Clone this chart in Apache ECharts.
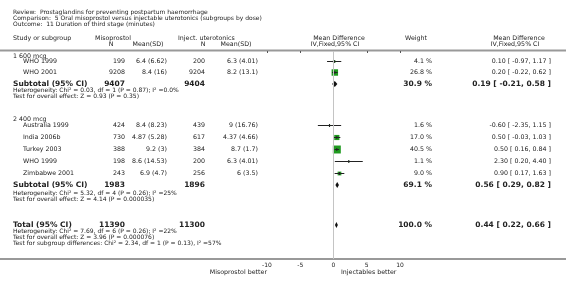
<!DOCTYPE html>
<html>
<head>
    <meta charset="utf-8" />
    <title>Forest plot - duration of third stage</title>
    <script src="https://cdn.jsdelivr.net/npm/echarts@6/dist/echarts.min.js"></script>
    <style>
        html, body { margin: 0; padding: 0; background: #ffffff; }
        #chart { width: 566px; height: 284px; }
    </style>
</head>
<body>
<div id="chart"></div>
<script type="text/javascript">
    // header text
    var titleLines = [
        'Review:  Prostaglandins for preventing postpartum haemorrhage',
        'Comparison:  5 Oral misoprostol versus injectable uterotonics (subgroups by dose)',
        'Outcome:  11 Duration of third stage (minutes)'
    ];

    // study level data
    var studyNames = ['WHO 1999', 'WHO 2001', 'Australia 1999', 'India 2006b', 'Turkey 2003', 'WHO 1999', 'Zimbabwe 2001'];
    var misoN = [199, 9208, 424, 730, 388, 198, 243];
    var misoMeanSd = ['6.4 (6.62)', '8.4 (16)', '8.4 (8.23)', '4.87 (5.28)', '9.2 (3)', '8.6 (14.53)', '6.9 (4.7)'];
    var injN = [200, 9204, 439, 617, 384, 200, 256];
    var injMeanSd = ['6.3 (4.01)', '8.2 (13.1)', '9 (16.76)', '4.37 (4.66)', '8.7 (1.7)', '6.3 (4.01)', '6 (3.5)'];
    var weights = [4.1, 26.8, 1.6, 17.0, 40.5, 1.1, 9.0];
    var meanDiff = [0.10, 0.20, -0.60, 0.50, 0.50, 2.30, 0.90];
    var ciLow = [-0.97, -0.22, -2.35, -0.03, 0.16, 0.20, 0.17];
    var ciHigh = [1.17, 0.62, 1.15, 1.03, 0.84, 4.40, 1.63];

    // subtotals and total
    var sumNames = ['Subtotal (95% CI)', 'Subtotal (95% CI)', 'Total (95% CI)'];
    var sumMisoN = [9407, 1983, 11390];
    var sumInjN = [9404, 1896, 11300];
    var sumWeight = [30.9, 69.1, 100.0];
    var sumMd = [0.19, 0.56, 0.44];
    var sumLow = [-0.21, 0.29, 0.22];
    var sumHigh = [0.58, 0.82, 0.66];

    var groupNames = ['1 600 mcg', '2 400 mcg'];
    var statLines = [
        'Heterogeneity: Chi² = 0.03, df = 1 (P = 0.87); I² =0.0%',
        'Test for overall effect: Z = 0.93 (P = 0.35)',
        'Heterogeneity: Chi² = 5.32, df = 4 (P = 0.26); I² =25%',
        'Test for overall effect: Z = 4.14 (P = 0.000035)',
        'Heterogeneity: Chi² = 7.69, df = 6 (P = 0.26); I² =22%',
        'Test for overall effect: Z = 3.96 (P = 0.000076)',
        'Test for subgroup differences: Chi² = 2.34, df = 1 (P = 0.13), I² =57%'
    ];
    var xTicks = [-10, -5, 0, 5, 10];

    // row slots (vertical layout, one unit = one table row)
    var studyRows = [0.83, 1.75, 6.17, 7.17, 8.17, 9.17, 10.17];
    var sumRows = [2.75, 11.17, 14.5];
    var groupRows = [0.42, 5.67];
    var statRows = [3.25, 3.75, 11.83, 12.33, 15.0, 15.5, 16.0];

    var FONT = 'DejaVu Sans';
    var TXT = '#222';
    var GREEN = '#1f9a1f';

    function fmt2(v) { return v.toFixed(2); }
    function ciText(m, l, h) { return fmt2(m) + ' [ ' + fmt2(l) + ', ' + fmt2(h) + ' ]'; }

    var studyData = [];
    for (var i = 0; i < studyNames.length; i++) {
        studyData.push([meanDiff[i], studyRows[i], ciLow[i], ciHigh[i], weights[i]]);
    }
    var sumData = [];
    for (var j = 0; j < sumNames.length; j++) {
        sumData.push([sumMd[j], sumRows[j], sumLow[j], sumHigh[j]]);
    }

    var myChart = echarts.init(document.getElementById('chart'));
    var option = {
        animation: false,
        grid: { left: 267, width: 133, top: 51, height: 208 },
        xAxis: {
            type: 'value',
            min: xTicks[0],
            max: xTicks[xTicks.length - 1],
            interval: 5,
            axisLine: { show: false },
            axisTick: { show: true, length: 2, lineStyle: { color: '#555' } },
            splitLine: { show: false },
            axisLabel: { fontFamily: FONT, fontSize: 6, color: TXT, margin: 3 }
        },
        yAxis: {
            type: 'value', inverse: true, min: 0, max: 17.33, show: false
        },
        series: [
            {
                // per-study square and confidence interval
                type: 'custom',
                data: studyData,
                renderItem: function (params, api) {
                    var y = api.value(1);
                    var c = api.coord([api.value(0), y]);
                    var lo = api.coord([api.value(2), y]);
                    var hi = api.coord([api.value(3), y]);
                    var s = 1.25 * Math.sqrt(api.value(4));
                    var py = Math.round(c[1]) + 0.5;
                    return {
                        type: 'group',
                        children: [
                            { type: 'rect', shape: { x: c[0] - s / 2, y: py - s / 2, width: s, height: s }, style: { fill: GREEN } },
                            { type: 'line', shape: { x1: lo[0], y1: py, x2: hi[0], y2: py }, style: { stroke: '#222', lineWidth: 1 } },
                            { type: 'line', shape: { x1: c[0], y1: py - 1.5, x2: c[0], y2: py + 1.5 }, style: { stroke: '#222', lineWidth: 1 } }
                        ]
                    };
                },
                markLine: {
                    silent: true, symbol: 'none', label: { show: false },
                    lineStyle: { color: '#c4c4c4', width: 1, type: 'solid' },
                    data: [{ xAxis: 0 }]
                }
            },
            {
                // pooled diamonds
                type: 'custom',
                data: sumData,
                renderItem: function (params, api) {
                    var y = api.value(1);
                    var c = api.coord([api.value(0), y]);
                    var lo = api.coord([api.value(2), y]);
                    var hi = api.coord([api.value(3), y]);
                    return {
                        type: 'polygon',
                        shape: { points: [[lo[0], c[1]], [c[0], c[1] - 3], [hi[0], c[1]], [c[0], c[1] + 3]] },
                        style: { fill: '#111' }
                    };
                }
            }
        ]
    };
    myChart.setOption(option);

    // text table, placed on the same row scale
    function rowY(r) { return myChart.convertToPixel({ yAxisIndex: 0 }, r); }
    function txt(x, y, s, align, bold, size) {
        return {
            type: 'text', x: x, y: y, silent: true,
            style: {
                text: s, fill: TXT, align: align || 'left', verticalAlign: 'middle',
                font: (bold ? 'bold ' : '') + (size || 6.3) + 'px "' + FONT + '"'
            }
        };
    }

    var g = [];
    for (var t = 0; t < titleLines.length; t++) g.push(txt(13, 12 + t * 6.2, titleLines[t], 'left', false, 6));
    g.push(txt(13, 38, 'Study or subgroup'));
    g.push(txt(95, 38, 'Misoprostol'));
    g.push(txt(178, 38, 'Inject. uterotonics'));
    g.push(txt(339, 38, 'Mean Difference', 'center'));
    g.push(txt(416, 38, 'Weight', 'center'));
    g.push(txt(519, 38, 'Mean Difference', 'center'));
    g.push(txt(111, 44.5, 'N', 'center'));
    g.push(txt(148, 44.5, 'Mean(SD)', 'center'));
    g.push(txt(203, 44.5, 'N', 'center'));
    g.push(txt(236, 44.5, 'Mean(SD)', 'center'));
    g.push(txt(335, 44.5, 'IV,Fixed,95% CI', 'center'));
    g.push(txt(515, 44.5, 'IV,Fixed,95% CI', 'center'));

    // separator lines
    var axisY = rowY(17.33);
    g.push({ type: 'rect', silent: true, shape: { x: 0, y: 49.5, width: 566, height: 2 }, style: { fill: '#999' } });
    g.push({ type: 'rect', silent: true, shape: { x: 0, y: axisY - 1, width: 566, height: 2 }, style: { fill: '#999' } });

    for (var k = 0; k < groupNames.length; k++) g.push(txt(13, rowY(groupRows[k]), groupNames[k]));
    for (var i2 = 0; i2 < studyNames.length; i2++) {
        var y = rowY(studyRows[i2]);
        g.push(txt(23, y, studyNames[i2]));
        g.push(txt(125, y, String(misoN[i2]), 'right'));
        g.push(txt(167, y, misoMeanSd[i2], 'right'));
        g.push(txt(205, y, String(injN[i2]), 'right'));
        g.push(txt(258, y, injMeanSd[i2], 'right'));
        g.push(txt(432, y, weights[i2].toFixed(1) + ' %', 'right'));
        g.push(txt(551, y, ciText(meanDiff[i2], ciLow[i2], ciHigh[i2]), 'right'));
    }
    for (var j2 = 0; j2 < sumNames.length; j2++) {
        var ys = rowY(sumRows[j2]);
        g.push(txt(13, ys, sumNames[j2], 'left', true, 7.5));
        g.push(txt(125, ys, String(sumMisoN[j2]), 'right', true, 7.5));
        g.push(txt(205, ys, String(sumInjN[j2]), 'right', true, 7.5));
        g.push(txt(432, ys, sumWeight[j2].toFixed(1) + ' %', 'right', true, 7.5));
        g.push(txt(551, ys, ciText(sumMd[j2], sumLow[j2], sumHigh[j2]), 'right', true, 7.5));
    }
    for (var s2 = 0; s2 < statLines.length; s2++) g.push(txt(13, rowY(statRows[s2]), statLines[s2], 'left', false, 6));

    g.push(txt(267, 272, 'Misoprostol better', 'right'));
    g.push(txt(341, 272, 'Injectables better', 'left'));

    myChart.setOption({ graphic: g });
</script>
</body>
</html>
